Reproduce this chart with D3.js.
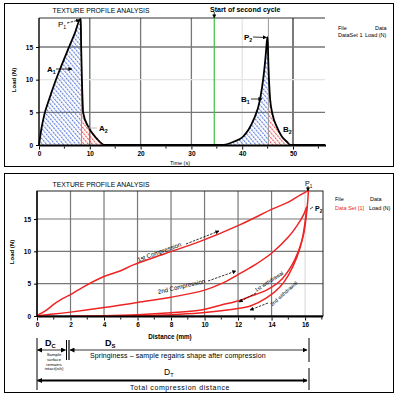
<!DOCTYPE html>
<html><head><meta charset="utf-8">
<script src="https://cdn.jsdelivr.net/npm/d3@7"></script>
<style>
body{margin:0;background:#fff;}
svg{display:block;font-family:"Liberation Sans",Arial,sans-serif;}
</style></head>
<body>
<svg id="c" width="400" height="396"></svg>
<script>
// ---- Top chart data: load (N) vs time (s)
const timeS = [0, 0.5, 1.0, 2.0, 3.1, 4.5, 5.8, 7.0, 8.2, 8.3, 8.45, 8.7, 9.7, 11.35, 13.0, 36.0, 38.3, 40.2, 42.2, 43.5, 44.2, 44.6, 44.85, 45.0, 45.15, 45.5, 46.0, 46.8, 47.8, 48.8, 49.5, 56.3];
const loadN = [0, 2.6, 4.5, 7.0, 9.5, 12.3, 14.8, 17.0, 19.3, 15.0, 10.0, 4.9, 2.8, 1.0, 0, 0, 0.5, 1.3, 3.8, 6.9, 10.5, 13.5, 15.8, 16.5, 12.5, 7.0, 4.6, 2.8, 1.3, 0.5, 0, 0];
const peakTimes = [8.2, 45.0];
const cycleEnds = [13.0, 49.5];
const cycleStarts = [0, 36.0];
const secondCycleStart = 34.5;
const timeTicks = [0, 10, 20, 30, 40, 50];
const loadTicks = [0, 5, 10, 15];

// ---- Bottom chart data: load (N) vs distance (mm)
const comp1Dist = [0, 0.5, 1.0, 1.4, 2.0, 2.7, 4.0, 5.0, 5.75, 7.7, 9.7, 12.1, 14.1, 15.0, 15.7, 16.2];
const comp1Load = [0.1, 0.8, 1.8, 2.5, 3.3, 4.4, 6.1, 7.0, 7.9, 9.7, 11.5, 14.1, 16.6, 17.6, 18.7, 19.4];
const with1Dist = [16.2, 16.15, 16.05, 15.9, 15.6, 15.2, 14.5, 13.7, 12.7, 12.1, 11.0, 9.7, 8.0, 6.0, 4.0, 2.0];
const with1Load = [19.4, 17.5, 15.0, 12.5, 10.0, 7.8, 5.4, 4.0, 3.0, 2.4, 1.7, 0.9, 0.5, 0.2, 0.05, 0];
const comp2Dist = [0, 1, 2, 4, 6, 8, 10, 11, 12, 13, 14, 15, 15.5, 15.9, 16.1];
const comp2Load = [0.05, 0.3, 0.6, 1.3, 2.1, 2.9, 4.0, 5.0, 6.4, 7.9, 9.7, 12.2, 13.9, 15.6, 16.9];
const with2Dist = [16.1, 16.0, 15.8, 15.5, 15.0, 14.5, 13.7, 12.7, 12.1, 11.0, 9.7, 8.0, 6.0, 4.0];
const with2Load = [16.9, 14.5, 11.5, 9.0, 6.3, 4.5, 2.8, 1.5, 1.2, 0.8, 0.45, 0.2, 0.05, 0];
const distTicks = [0, 2, 4, 6, 8, 10, 12, 14, 16];

const svg = d3.select("#c");
const defs = svg.append("defs");
function hatch(id, color){
  const p = defs.append("pattern").attr("id", id).attr("patternUnits","userSpaceOnUse")
    .attr("width",3.2).attr("height",3).attr("patternTransform","rotate(-40)");
  p.append("line").attr("x1",0.6).attr("y1",0).attr("x2",0.6).attr("y2",3)
    .attr("stroke",color).attr("stroke-width",0.9).attr("stroke-dasharray","2.2,0.8");
}
hatch("hb","#4166cf");
hatch("hr","#e83a3a");
function marker(id, color, size){
  defs.append("marker").attr("id",id).attr("viewBox","0 0 10 10").attr("refX",9).attr("refY",5)
    .attr("markerWidth",size).attr("markerHeight",size).attr("orient","auto-start-reverse")
    .attr("markerUnits","userSpaceOnUse")
    .append("path").attr("d","M0,0L10,5L0,10z").attr("fill",color);
}
marker("ah","#000",5);
marker("ahs","#000",4);

// panel borders
svg.append("rect").attr("x",4.5).attr("y",3.5).attr("width",389).attr("height",163).attr("fill","none").attr("stroke","#000").attr("stroke-width",1);
svg.append("rect").attr("x",4.5).attr("y",173.5).attr("width",389).attr("height",219).attr("fill","none").attr("stroke","#000").attr("stroke-width",1);

// ================= TOP CHART =================
const x1 = d3.scaleLinear().domain([0,56.3]).range([39,325]);
const y1 = d3.scaleLinear().domain([0,19.44]).range([145,18]);
const g1 = svg.append("g");

const vGridTop = [10,20,30,40,50];
const vGridCol = {10:"#666",20:"#777",30:"#777",40:"#e4e4e4",50:"#333"};
g1.selectAll(".vg").data(vGridTop).join("line")
  .attr("x1",d=>x1(d)).attr("x2",d=>x1(d)).attr("y1",y1.range()[1]).attr("y2",y1(0))
  .attr("stroke",d=>vGridCol[d]).attr("stroke-width",1.3);
const hGridTop = [5,10,15];
g1.selectAll(".hg").data(hGridTop).join("line")
  .attr("x1",x1(0)).attr("x2",x1.range()[1]).attr("y1",d=>y1(d)).attr("y2",d=>y1(d))
  .attr("stroke",d=>d===10?"#e4e4e4":"#777").attr("stroke-width",1.3);
g1.append("line").attr("x1",x1(0)).attr("x2",x1.range()[1]).attr("y1",18).attr("y2",18).attr("stroke","#333").attr("stroke-width",1);

const pts = timeS.map((t,i)=>({t, v:loadN[i]}));
const area1 = d3.area().x(d=>x1(d.t)).y0(y1(0)).y1(d=>y1(d.v)).curve(d3.curveMonotoneX);
for(let c=0;c<2;c++){
  const rise = pts.filter(d=>d.t>=cycleStarts[c] && d.t<=peakTimes[c]);
  const fall = pts.filter(d=>d.t>=peakTimes[c] && d.t<=cycleEnds[c]);
  g1.append("path").datum(rise).attr("d",area1).attr("fill","url(#hb)");
  g1.append("path").datum(fall).attr("d",area1).attr("fill","url(#hr)");
  g1.append("line").attr("x1",x1(peakTimes[c])+0.8).attr("x2",x1(peakTimes[c])+0.8)
    .attr("y1",18).attr("y2",y1(0)).attr("stroke","#999").attr("stroke-width",1);
}
g1.append("line").attr("x1",x1(secondCycleStart)).attr("x2",x1(secondCycleStart))
  .attr("y1",18).attr("y2",y1(0)).attr("stroke","#3cc23c").attr("stroke-width",1.2);

const line1 = d3.line().x(d=>x1(d.t)).y(d=>y1(d.v)).curve(d3.curveMonotoneX);
g1.append("path").datum(pts).attr("d",line1).attr("fill","none").attr("stroke","#000").attr("stroke-width",1.8);
g1.append("line").attr("x1",x1(0)).attr("x2",x1.range()[1]+1).attr("y1",y1(0)+0.5).attr("y2",y1(0)+0.5).attr("stroke","#000").attr("stroke-width",2.2);
g1.append("line").attr("x1",x1(0)).attr("x2",x1(0)).attr("y1",18).attr("y2",y1(0)).attr("stroke","#000").attr("stroke-width",1.4);

const ax1 = d3.axisBottom(x1).tickValues(timeTicks).tickSize(3).tickFormat(d3.format("d"));
const gx1 = g1.append("g").attr("transform",`translate(0,${y1(0)+1.5})`).call(ax1);
gx1.select(".domain").remove();
gx1.selectAll("text").attr("font-size",6.5).attr("font-weight","bold").attr("dy","0.6em").attr("fill","#000");
g1.selectAll(".mt").data(d3.range(5,56,10)).join("line")
  .attr("x1",d=>x1(d)).attr("x2",d=>x1(d)).attr("y1",y1(0)+1.5).attr("y2",y1(0)+3.5).attr("stroke","#000");
const ay1 = d3.axisLeft(y1).tickValues(loadTicks).tickSize(3).tickFormat(d3.format("d"));
const gy1 = g1.append("g").attr("transform",`translate(${x1(0)},0)`).call(ay1);
gy1.select(".domain").remove();
gy1.selectAll("text").attr("font-size",6.5).attr("font-weight","bold").attr("fill","#000");

g1.append("text").attr("x",101).attr("y",13).attr("text-anchor","middle").attr("font-size",6.8).text("TEXTURE PROFILE ANALYSIS");
g1.append("text").attr("x",180).attr("y",165).attr("text-anchor","middle").attr("font-size",5.5).text("Time (s)");
g1.append("text").attr("transform","translate(16,80) rotate(-90)").attr("text-anchor","middle").attr("font-size",6).attr("font-weight","bold").text("Load (N)");
g1.append("text").attr("x",210).attr("y",12).attr("font-size",7).attr("font-weight","bold").text("Start of second cycle");
g1.append("line").attr("x1",x1(secondCycleStart)).attr("x2",x1(secondCycleStart)).attr("y1",12).attr("y2",18).attr("stroke","#000").attr("stroke-width",0.8).attr("marker-end","url(#ahs)");
g1.append("text").attr("x",338).attr("y",30).attr("font-size",5.5).text("File");
g1.append("text").attr("x",375).attr("y",30).attr("font-size",5.5).text("Data");
g1.append("text").attr("x",338).attr("y",37).attr("font-size",5.5).text("DataSet 1");
g1.append("text").attr("x",365).attr("y",37).attr("font-size",5.5).text("Load (N)");

function sublabel(g, x, y, main, sub, bold, size){
  const t = g.append("text").attr("x",x).attr("y",y).attr("font-size",size||8).attr("font-weight",bold?"bold":"normal");
  t.append("tspan").text(main);
  t.append("tspan").attr("dy",2).attr("font-size",(size||8)*0.65).text(sub);
  return t;
}
function arrow(g, xa, ya, xb, yb, dashed, w){
  g.append("line").attr("x1",xa).attr("y1",ya).attr("x2",xb).attr("y2",yb)
    .attr("stroke","#000").attr("stroke-width",w||0.8).attr("stroke-dasharray",dashed?"2.5,1.2":null)
    .attr("marker-end","url(#ahs)");
}
sublabel(g1, 58, 27, "P", "1", false, 8);
arrow(g1, 67, 23, x1(peakTimes[0])-1, y1(19.3)+1, true);
sublabel(g1, 47, 72, "A", "1", true, 8);
arrow(g1, 56, 69, 72, 69, false);
sublabel(g1, 99, 131, "A", "2", true, 8);
g1.append("line").attr("x1",86).attr("x2",97).attr("y1",128).attr("y2",128).attr("stroke","#aaa").attr("stroke-width",0.8);
sublabel(g1, 244, 40, "P", "2", true, 8);
arrow(g1, 253, 37, x1(peakTimes[1])-1, 37.5, false);
sublabel(g1, 241, 102, "B", "1", true, 8);
arrow(g1, 251, 99, 262, 99, false);
sublabel(g1, 283, 132, "B", "2", true, 8);

// ================= BOTTOM CHART =================
const x2 = d3.scaleLinear().domain([0,17.07]).range([37,323]);
const y2 = d3.scaleLinear().domain([0,19.33]).range([316,191]);
const g2 = svg.append("g");
g2.selectAll(".vg").data([2,4,6,8,10,12,14,16]).join("line")
  .attr("x1",d=>x2(d)).attr("x2",d=>x2(d)).attr("y1",191).attr("y2",316)
  .attr("stroke",d=>d===16?"#ddd":"#777").attr("stroke-width",1.2);
g2.selectAll(".hg").data([5,10,15]).join("line")
  .attr("x1",37).attr("x2",323).attr("y1",d=>y2(d)).attr("y2",d=>y2(d))
  .attr("stroke","#777").attr("stroke-width",1.2);
g2.append("rect").attr("x",37).attr("y",191).attr("width",286).attr("height",125).attr("fill","none").attr("stroke","#222").attr("stroke-width",1);

const line2 = d3.line().x(d=>x2(d[0])).y(d=>y2(d[1])).curve(d3.curveCatmullRom.alpha(0.5));
const series = [[comp1Dist,comp1Load],[with1Dist,with1Load],[comp2Dist,comp2Load],[with2Dist,with2Load]];
series.forEach(([xs,ys])=>{
  g2.append("path").datum(xs.map((d,i)=>[d,ys[i]])).attr("d",line2)
    .attr("fill","none").attr("stroke","#ee2424").attr("stroke-width",1.5);
});
g2.append("line").attr("x1",37).attr("x2",323).attr("y1",316.5).attr("y2",316.5).attr("stroke","#000").attr("stroke-width",2);
g2.append("line").attr("x1",37).attr("x2",37).attr("y1",191).attr("y2",316).attr("stroke","#000").attr("stroke-width",1.4);

const ax2 = d3.axisBottom(x2).tickValues(distTicks).tickSize(3).tickFormat(d3.format("d"));
const gx2 = g2.append("g").attr("transform","translate(0,317.5)").call(ax2);
gx2.select(".domain").remove();
gx2.selectAll("text").attr("font-size",6.5).attr("font-weight","bold").attr("dy","0.6em").attr("fill","#000");
g2.selectAll(".mt").data(d3.range(1,17.5,2)).join("line")
  .attr("x1",d=>x2(d)).attr("x2",d=>x2(d)).attr("y1",317.5).attr("y2",319.5).attr("stroke","#000");
const ay2 = d3.axisLeft(y2).tickValues(loadTicks).tickSize(3).tickFormat(d3.format("d"));
const gy2 = g2.append("g").attr("transform","translate(37,0)").call(ay2);
gy2.select(".domain").remove();
gy2.selectAll("text").attr("font-size",6.5).attr("font-weight","bold").attr("fill","#000");

g2.append("text").attr("x",101).attr("y",186.5).attr("text-anchor","middle").attr("font-size",6.8).text("TEXTURE PROFILE ANALYSIS");
g2.append("text").attr("x",170).attr("y",339).attr("text-anchor","middle").attr("font-size",6.3).attr("font-weight","bold").text("Distance (mm)");
g2.append("text").attr("transform","translate(14,252) rotate(-90)").attr("text-anchor","middle").attr("font-size",6).attr("font-weight","bold").text("Load (N)");
g2.append("text").attr("x",335).attr("y",201).attr("font-size",5.5).text("File");
g2.append("text").attr("x",370).attr("y",201).attr("font-size",5.5).text("Data");
g2.append("text").attr("x",335).attr("y",210).attr("font-size",5.5).attr("fill","#ee2424").text("Data Set [1]");
g2.append("text").attr("x",369).attr("y",210).attr("font-size",5.5).text("Load (N)");

function rotText(g, x, y, ang, str, size){
  g.append("text").attr("transform",`translate(${x},${y}) rotate(${ang})`).attr("text-anchor","middle")
    .attr("font-size",size||6).text(str);
}
rotText(g2, 160, 254, -20, "1st Compression", 6.2);
arrow(g2, 186, 244, 219, 231, true);
rotText(g2, 182, 288.5, -13, "2nd Compression", 6.2);
arrow(g2, 208, 281, 236, 271, true);
rotText(g2, 270, 283, -33, "1st withdrawal", 5.2);
arrow(g2, 256, 293, 239, 302, true);
rotText(g2, 285, 295, -42, "2nd withdrawal", 5.2);
arrow(g2, 268, 303, 250, 310, true);
sublabel(g2, 305, 186, "P", "1", false, 7);
arrow(g2, 308, 186, 308, 191, false);
sublabel(g2, 315, 211, "P", "2", true, 7);
g2.append("line").attr("x1",310).attr("x2",313).attr("y1",209).attr("y2",207).attr("stroke","#000").attr("stroke-width",0.7);

// dimension annotations
const dimX0 = x2(0), dimXc = 66, dimXe = 307;
g2.append("line").attr("x1",dimX0).attr("x2",dimX0).attr("y1",338).attr("y2",390).attr("stroke","#000").attr("stroke-width",1);
g2.append("line").attr("x1",309).attr("x2",309).attr("y1",338).attr("y2",362).attr("stroke","#000").attr("stroke-width",1);
g2.append("line").attr("x1",309).attr("x2",309).attr("y1",368).attr("y2",390).attr("stroke","#000").attr("stroke-width",1);
g2.append("line").attr("x1",dimXc+0.5).attr("x2",dimXc+0.5).attr("y1",340).attr("y2",360).attr("stroke","#000").attr("stroke-width",1);
g2.append("line").attr("x1",dimXc+3).attr("x2",dimXc+3).attr("y1",340).attr("y2",360).attr("stroke","#000").attr("stroke-width",1.2);
function dimArrow(xa, xb, y, w){
  g2.append("line").attr("x1",xa).attr("x2",xb).attr("y1",y).attr("y2",y).attr("stroke","#000").attr("stroke-width",w)
    .attr("marker-start","url(#ah)").attr("marker-end","url(#ah)");
}
dimArrow(dimX0+0.5, dimXc-0.5, 350, 0.8);
dimArrow(dimXc+4, dimXe, 350, 0.8);
dimArrow(dimX0+0.5, dimXe, 380.5, 1.8);
sublabel(g2, 45, 346, "D", "C", true, 9);
sublabel(g2, 105, 346, "D", "S", true, 9);
sublabel(g2, 164, 375, "D", "T", false, 8.5);
g2.append("text").attr("x",90).attr("y",357.5).attr("font-size",7).attr("letter-spacing",0.1).text("Springiness \u2013 sample regains shape after compression");
g2.append("text").attr("x",130).attr("y",389.5).attr("font-size",7).attr("letter-spacing",0.6).text("Total compression distance");
["Sample","surface","remains","intact(ish)"].forEach((s,i)=>{
  g2.append("text").attr("x",54).attr("y",356+i*4.8).attr("text-anchor","middle").attr("font-size",4.3).text(s);
});
</script>
</body></html>
